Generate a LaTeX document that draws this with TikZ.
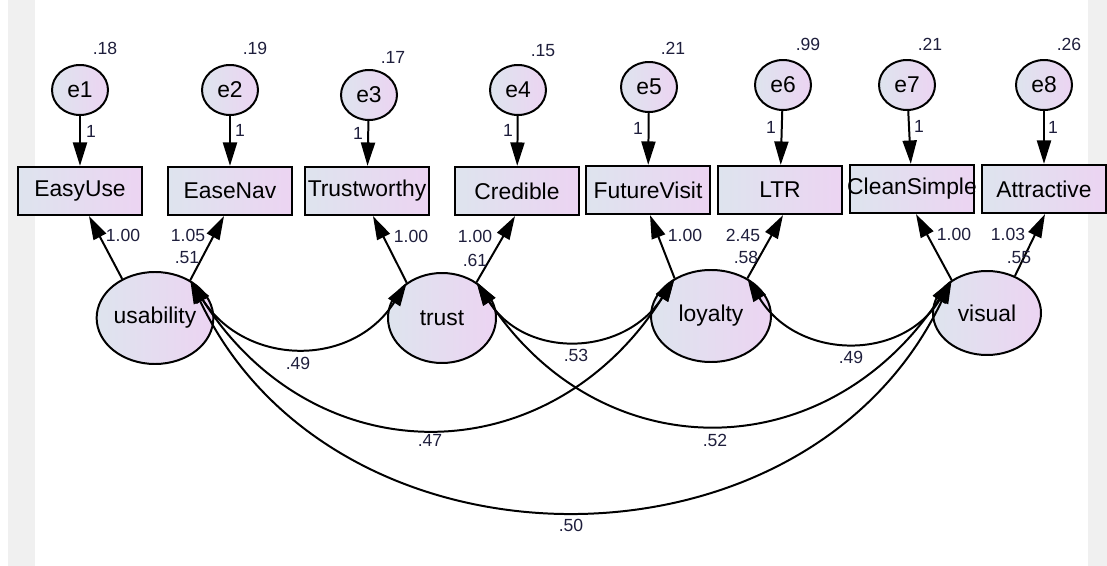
\documentclass[tikz,border=0pt]{standalone}
\usepackage{fontspec}
\setmainfont{Liberation Sans}
\usetikzlibrary{shapes.geometric,arrows.meta}

\definecolor{shadeA}{RGB}{222,228,238}
\definecolor{shadeB}{RGB}{236,212,242}
\definecolor{numcol}{RGB}{30,30,60}

\begin{document}
\begin{tikzpicture}[x=0.03cm, y=-0.03cm,
    obs/.style={draw, line width=1.9pt, rectangle, minimum width=3.72cm, minimum height=1.44cm,
        inner sep=0pt, left color=shadeA, right color=shadeB, font=\fontsize{19.5}{22}\selectfont},
    lat/.style={draw, line width=1.7pt, ellipse, inner sep=0pt, left color=shadeA,
        right color=shadeB, font=\fontsize{19.5}{22}\selectfont},
    err/.style={lat, minimum width=1.68cm, minimum height=1.5cm},
    num/.style={font=\fontsize{15}{17}\selectfont, text=numcol, inner sep=0pt},
    fix/.style={line width=1.7pt, -{Triangle[length=20pt,width=12pt]}},
    cov/.style={line width=1.7pt, {Triangle[length=20pt,width=12pt]}-{Triangle[length=20pt,width=12pt]}}
  ]
    \useasboundingbox (0,0) rectangle (1107,566);
    \fill[gray!12] (8,0) rectangle (35,566);
    \fill[gray!12] (1088,0) rectangle (1107,566);

    % error terms
    \node[err] (e1) at (80,90) {e1};
    \node[err] (e2) at (230,90) {e2};
    \node[err] (e3) at (369,95) {e3};
    \node[err] (e4) at (518,90) {e4};
    \node[err] (e5) at (649,87) {e5};
    \node[err] (e6) at (783,85) {e6};
    \node[err] (e7) at (907,85) {e7};
    \node[err] (e8) at (1044,85) {e8};

    % observed variables
    \node[obs] (EasyUse) at (80,191) {EasyUse};
    \node[obs] (EaseNav) at (230,191) {EaseNav};
    \node[obs] (Trustworthy) at (367,191) {Trustworthy};
    \node[obs] (Credible) at (517,191) {Credible};
    \node[obs] (FutureVisit) at (648,190) {FutureVisit};
    \node[obs] (LTR) at (780,190) {LTR};
    \node[obs] (CleanSimple) at (912,189) {\makebox[0pt]{CleanSimple}};
    \node[obs] (Attractive) at (1044,189) {Attractive};

    % latent factors
    \node[lat, minimum width=3.0cm, minimum height=2.76cm] (usability) at (155,318) {usability};
    \node[lat, minimum width=3.24cm, minimum height=2.7cm] (trust) at (442,318) {trust};
    \node[lat, minimum width=3.6cm, minimum height=2.76cm] (loyalty) at (711,316) {loyalty};
    \node[lat, minimum width=3.24cm, minimum height=2.52cm] (visual) at (987,313) {visual};

    \draw[fix] (e1) -- (EasyUse);
    \draw[fix] (e2) -- (EaseNav);
    \draw[fix] (e3) -- (Trustworthy);
    \draw[fix] (e4) -- (Credible);
    \draw[fix] (e5) -- (FutureVisit);
    \draw[fix] (e6) -- (LTR);
    \draw[fix] (e7) -- (CleanSimple);
    \draw[fix] (e8) -- (Attractive);

    \draw[fix] (usability.130) -- ([xshift=0.27cm]EasyUse.south);
    \draw[fix] (usability.47) -- ([xshift=-0.18cm]EaseNav.south);
    \draw[fix] (trust.135) -- ([xshift=0.18cm]Trustworthy.south);
    \draw[fix] (trust.46) -- ([xshift=-0.06cm]Credible.south);
    \draw[fix] (loyalty.134) -- ([xshift=0.06cm]FutureVisit.south);
    \draw[fix] (loyalty.46) -- ([xshift=0.09cm]LTR.south);
    \draw[fix] (visual.137) -- ([xshift=0.12cm]CleanSimple.south);
    \draw[fix] (visual.53) -- ([xshift=0.03cm]Attractive.south);

    % covariances
    \draw[cov] (usability.47) .. controls +(55,86) and +(-55,86) .. (trust.135);
    \draw[cov] (trust.46) .. controls +(50,78) and +(-50,78) .. (loyalty.134);
    \draw[cov] (loyalty.46) .. controls +(50,82) and +(-50,82) .. (visual.137);
    \draw[cov] (usability.47) .. controls +(125,197) and +(-125,197) .. (loyalty.134);
    \draw[cov] (trust.46) .. controls +(125,189) and +(-125,189) .. (visual.137);
    \draw[cov] (usability.47) .. controls +(145,305) and +(-145,305) .. (visual.137);

    % estimates
    \node[num] at (105,48) {.18};
    \node[num] at (255,48) {.19};
    \node[num] at (393,57) {.17};
    \node[num] at (543,51) {.15};
    \node[num] at (673,48) {.21};
    \node[num] at (808,44) {.99};
    \node[num] at (930,44) {.21};
    \node[num] at (1069,44) {.26};

    \node[num] at (91,131) {1};
    \node[num] at (240,130) {1};
    \node[num] at (358,133) {1};
    \node[num] at (508,130) {1};
    \node[num] at (638,128) {1};
    \node[num] at (771,127) {1};
    \node[num] at (919,126) {1};
    \node[num] at (1053,127) {1};

    \node[num] at (123,235) {1.00};
    \node[num] at (188,235) {1.05};
    \node[num] at (187,258) {.51};
    \node[num] at (411,236) {1.00};
    \node[num] at (475,236) {1.00};
    \node[num] at (475,260) {.61};
    \node[num] at (685,235) {1.00};
    \node[num] at (743,235) {2.45};
    \node[num] at (746,257) {.58};
    \node[num] at (954,234) {1.00};
    \node[num] at (1008,234) {1.03};
    \node[num] at (1019,258) {.55};

    \node[num] at (298,363) {.49};
    \node[num] at (576,355) {.53};
    \node[num] at (851,357) {.49};
    \node[num] at (430,440) {.47};
    \node[num] at (715,440) {.52};
    \node[num] at (571,525) {.50};
\end{tikzpicture}
\end{document}
